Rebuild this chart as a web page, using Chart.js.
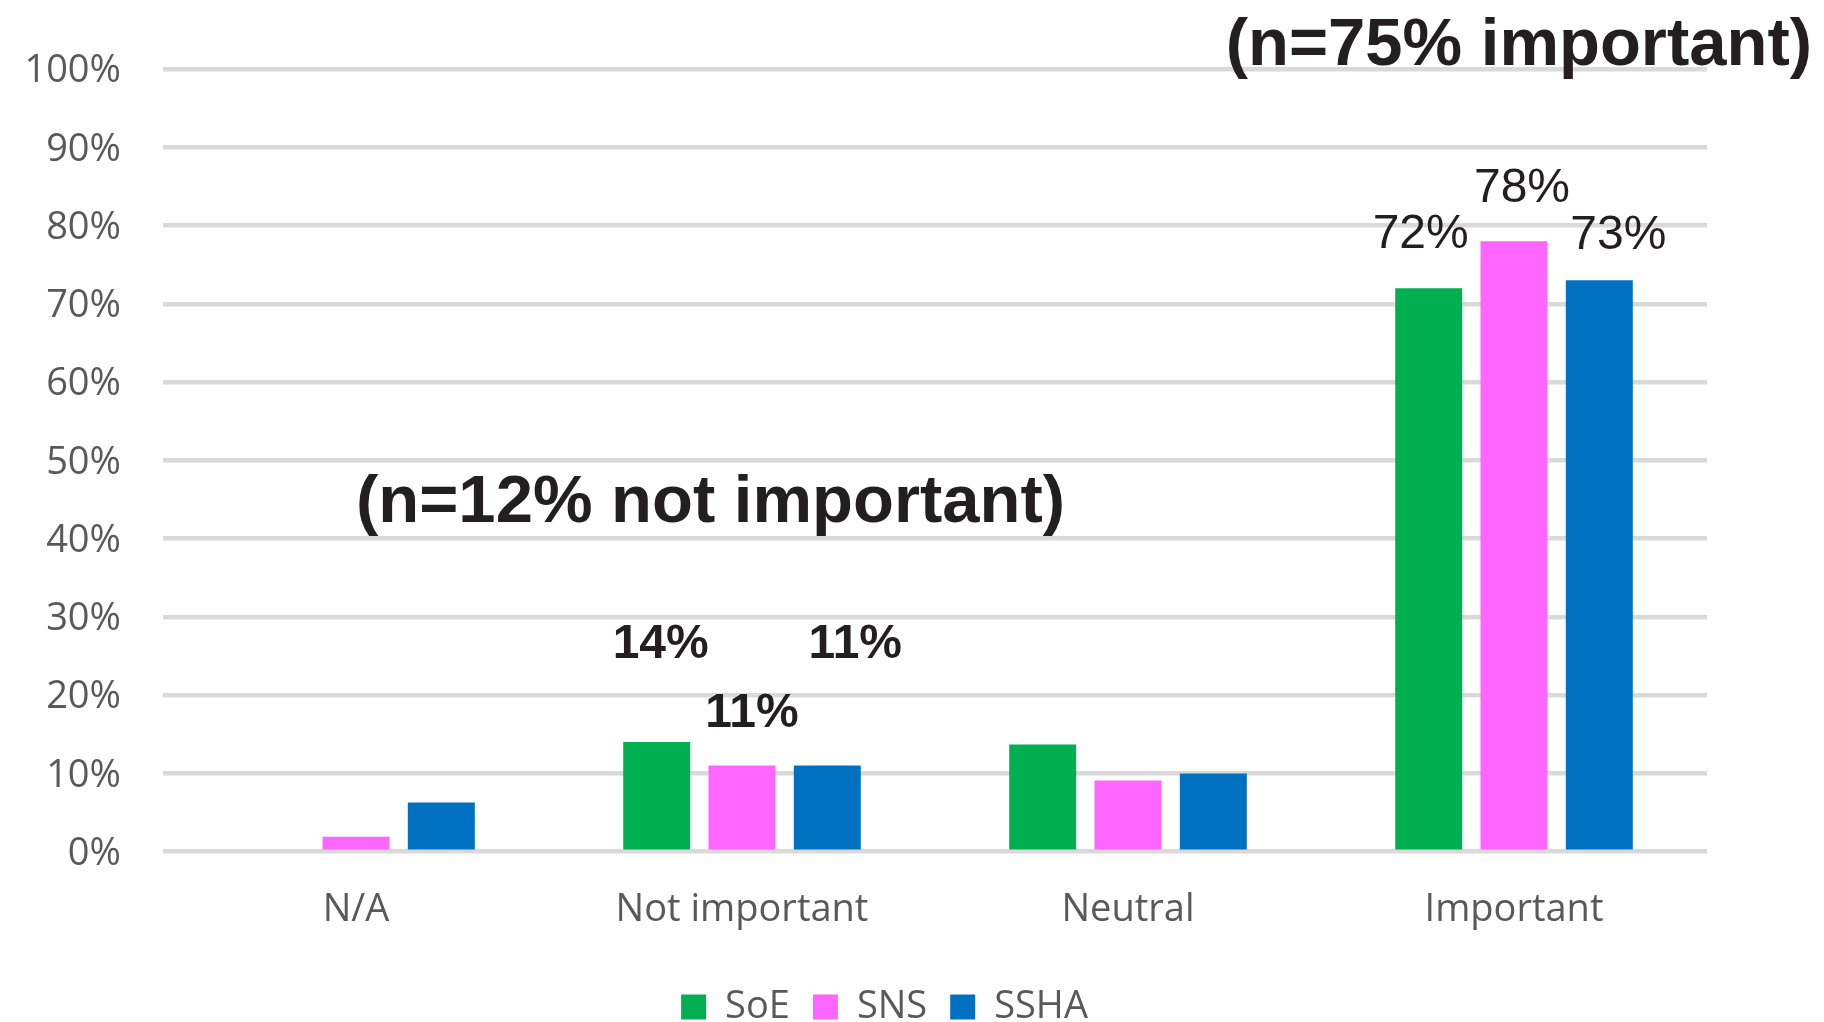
<!DOCTYPE html>
<html>
<head>
<meta charset="utf-8">
<script src="https://cdn.jsdelivr.net/npm/chart.js@4.4.1/dist/chart.umd.min.js"></script>
<style>
html,body{margin:0;padding:0;background:#ffffff;}
canvas{display:block;}
</style>
</head>
<body>
<canvas id="c" width="1824" height="1022"></canvas>
<script>
// ---- data ----
const categories = ['N/A', 'Not important', 'Neutral', 'Important'];
const seriesNames = ['SoE', 'SNS', 'SSHA'];
const soeValues = [0, 14, 13.7, 72];
const snsValues = [1.9, 11, 9.1, 78];
const sshaValues = [6.3, 11, 10, 73];
const yTickValues = [0, 10, 20, 30, 40, 50, 60, 70, 80, 90, 100];
const labelledCategories = ['Not important', 'Important'];
const noteNotImportant = '(n=12% not important)';
const noteImportant = '(n=75% important)';

// ---- styles ----
const seriesColors = ['#00b050', '#ff66ff', '#0070c0'];
const axisFont = { family: 'Open Sans', size: 38 };
const axisColor = '#595959';
const darkText = '#231f20';
// label offsets (px) from the bar top-centre to the label baseline-centre, per series per category
const labelOffsets = {
  'Not important': [[4, -84], [10, -39], [28, -108]],
  'Important': [[-8, -40], [8, -39], [19, -31]]
};
const labelWeight = { 'Not important': 'bold', 'Important': 'normal' };
const legendShift = 31;

const valueLabels = {
  id: 'valueLabels',
  afterDatasetsDraw(chart) {
    const ctx = chart.ctx;
    ctx.save();
    ctx.fillStyle = darkText;
    ctx.textAlign = 'center';
    ctx.textBaseline = 'alphabetic';
    chart.data.datasets.forEach((ds, i) => {
      const meta = chart.getDatasetMeta(i);
      chart.data.labels.forEach((cat, j) => {
        if (!labelledCategories.includes(cat)) return;
        const el = meta.data[j];
        const off = labelOffsets[cat][i];
        ctx.font = labelWeight[cat] + ' 48px "Liberation Sans", Arial, sans-serif';
        ctx.fillText(Math.round(ds.data[j]) + '%', el.x + off[0], el.y + off[1]);
      });
    });
    ctx.restore();
  }
};

const notes = {
  id: 'notes',
  afterDraw(chart) {
    const ctx = chart.ctx;
    ctx.save();
    ctx.fillStyle = darkText;
    ctx.font = 'bold 67px "Liberation Sans", Arial, sans-serif';
    ctx.textBaseline = 'alphabetic';
    ctx.textAlign = 'left';
    ctx.fillText(noteNotImportant, 356, 522);
    ctx.textAlign = 'right';
    ctx.fillText(noteImportant, 1812, 65);
    ctx.restore();
  }
};

const legendNudge = {
  id: 'legendNudge',
  afterLayout(chart) {
    if (chart.legend) {
      chart.legend.left += legendShift * 2;
    }
  }
};

const valueSeries = [soeValues, snsValues, sshaValues];

new Chart(document.getElementById('c'), {
  type: 'bar',
  data: {
    labels: categories,
    datasets: seriesNames.map((name, i) => ({
      label: name,
      data: valueSeries[i],
      backgroundColor: seriesColors[i],
      borderWidth: 0,
      categoryPercentage: 0.663,
      barPercentage: 0.785
    }))
  },
  options: {
    responsive: false,
    animation: false,
    devicePixelRatio: 1,
    layout: { padding: { left: 0, right: 117, top: 69, bottom: -14 } },
    scales: {
      x: {
        grid: { display: false, drawTicks: false },
        border: { display: false },
        ticks: { font: axisFont, color: axisColor, padding: 36 },
        afterFit(s) { s.height = 1036 - (38 + 23 + 10) - 851.7; }
      },
      y: {
        min: 0,
        max: 100,
        afterBuildTicks(s) { s.ticks = yTickValues.map(v => ({ value: v })); },
        ticks: { font: axisFont, color: axisColor, padding: 42, labelOffset: 2.5, callback: v => v + '%' },
        grid: { color: '#d9d9d9', lineWidth: 4.5, drawTicks: false },
        border: { display: false },
        afterFit(s) { s.width = 163; }
      }
    },
    plugins: {
      legend: {
        position: 'bottom',
        labels: { boxWidth: 25, boxHeight: 25, font: axisFont, color: axisColor, padding: 23 }
      },
      tooltip: { enabled: false }
    }
  },
  plugins: [valueLabels, notes, legendNudge]
});
</script>
</body>
</html>
